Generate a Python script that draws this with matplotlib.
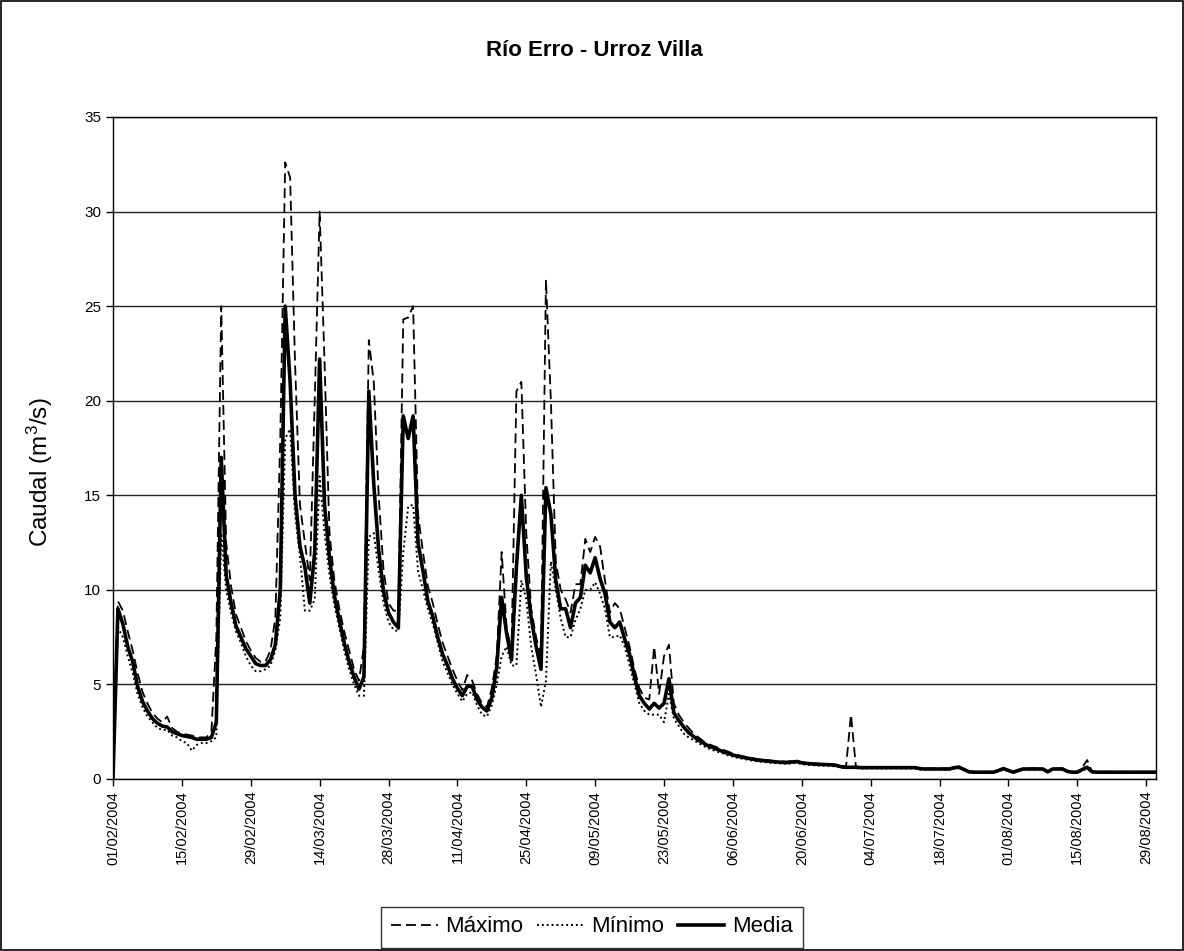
import matplotlib
matplotlib.use('Agg')
import matplotlib.pyplot as plt
import matplotlib.dates as mdates
import pandas as pd
from matplotlib.patches import Rectangle

plt.rcParams['font.family'] = ['Liberation Sans', 'DejaVu Sans']
plt.rcParams['mathtext.fontset'] = 'custom'
plt.rcParams['mathtext.rm'] = 'Liberation Sans'
plt.rcParams['mathtext.it'] = 'Liberation Sans:italic'

# daily flow values, 01/02/2004 - 31/08/2004 (m3/s)
fechas = pd.date_range('2004-02-01', '2004-08-31', freq='D')

maximo = [
    # febrero
    1.5, 9.4, 8.9, 7.8, 6.8, 5.6, 4.6, 4.0, 3.5, 3.2, 3.0, 3.3, 2.7, 2.5, 2.4,
    2.35, 2.3, 2.2, 2.2, 2.2, 2.5, 7.5, 25.0, 12.5, 10.2, 8.7, 8.0, 7.3, 6.8,
    # marzo
    6.4, 6.2, 6.2, 6.8, 8.5, 18.0, 32.6, 31.8, 22.0, 14.5, 12.5, 10.5, 20.0, 30.0, 22.0,
    13.0, 10.5, 9.0, 7.8, 6.8, 5.8, 5.2, 7.0, 23.2, 21.0, 15.0, 11.0, 9.3, 8.9, 8.9, 24.3,
    # abril
    24.4, 25.0, 14.0, 12.0, 10.2, 9.3, 8.2, 7.2, 6.5, 5.8, 5.2, 4.7, 5.5, 5.2, 4.5,
    4.0, 3.8, 4.8, 6.5, 12.0, 8.0, 6.8, 20.5, 21.0, 13.0, 9.0, 7.5, 6.5, 26.4, 20.0,
    # mayo
    11.5, 10.0, 9.5, 8.8, 10.3, 10.3, 12.7, 12.0, 12.8, 12.3, 10.5, 8.8, 9.3, 9.0, 8.0,
    7.0, 5.8, 4.8, 4.3, 4.2, 7.0, 4.5, 6.5, 7.1, 4.0, 3.4, 3.0, 2.7, 2.4, 2.2, 2.0,
    # junio
    1.85, 1.75, 1.65, 1.55, 1.45, 1.35, 1.28, 1.2, 1.15, 1.1, 1.05, 1.02, 1.0, 0.97, 0.95,
    0.93, 0.92, 0.95, 0.97, 0.9, 0.86, 0.84, 0.82, 0.8, 0.79, 0.78, 0.76, 0.68, 0.66, 3.4,
    # julio
    0.66, 0.63, 0.63, 0.63, 0.63, 0.63, 0.63, 0.63, 0.63, 0.63, 0.63, 0.63, 0.63, 0.58, 0.56,
    0.56, 0.56, 0.56, 0.56, 0.56, 0.64, 0.66, 0.52, 0.4, 0.38, 0.38, 0.38, 0.38, 0.38, 0.48, 0.58,
    # agosto
    0.48, 0.4, 0.48, 0.56, 0.56, 0.56, 0.56, 0.56, 0.4, 0.56, 0.56, 0.56, 0.42, 0.38, 0.38,
    0.6, 1.0, 0.4, 0.38, 0.38, 0.38, 0.38, 0.38, 0.38, 0.38, 0.38, 0.38, 0.38, 0.38, 0.38, 0.38,
]

minimo = [
    # febrero
    0.0, 8.0, 7.5, 6.5, 5.6, 4.5, 3.8, 3.3, 3.0, 2.7, 2.6, 2.6, 2.3, 2.2, 2.0,
    1.9, 1.5, 1.8, 1.9, 1.9, 2.0, 2.2, 13.0, 10.0, 8.8, 7.8, 7.2, 6.5, 6.0,
    # marzo
    5.7, 5.7, 5.8, 6.0, 6.8, 8.5, 18.0, 18.5, 14.0, 11.8, 8.9, 8.9, 9.5, 16.0, 13.0,
    10.8, 9.2, 8.0, 6.8, 5.8, 5.0, 4.4, 4.4, 12.8, 13.0, 11.0, 9.3, 8.3, 7.9, 7.8, 12.0,
    # abril
    14.4, 14.5, 11.0, 10.0, 9.0, 8.2, 7.2, 6.2, 5.6, 5.0, 4.5, 4.1, 4.5, 4.6, 3.9,
    3.4, 3.3, 3.9, 5.0, 6.5, 7.0, 6.0, 6.0, 10.5, 9.5, 7.0, 5.5, 3.8, 5.2, 11.5,
    # mayo
    10.0, 8.5, 7.5, 7.5, 8.4, 9.0, 10.0, 10.0, 10.4, 9.8, 9.0, 7.5, 7.5, 7.6, 7.0,
    6.0, 5.0, 4.0, 3.6, 3.4, 3.4, 3.4, 3.0, 4.5, 3.2, 2.8, 2.4, 2.2, 2.05, 1.9, 1.75,
    # junio
    1.62, 1.52, 1.43, 1.35, 1.25, 1.18, 1.12, 1.07, 1.02, 0.97, 0.93, 0.9, 0.88, 0.85, 0.83,
    0.82, 0.8, 0.83, 0.86, 0.79, 0.76, 0.74, 0.72, 0.71, 0.7, 0.69, 0.66, 0.6, 0.58, 0.58,
    # julio
    0.58, 0.56, 0.56, 0.56, 0.56, 0.56, 0.56, 0.56, 0.56, 0.56, 0.56, 0.56, 0.56, 0.5, 0.5,
    0.5, 0.5, 0.5, 0.5, 0.5, 0.55, 0.58, 0.46, 0.34, 0.33, 0.33, 0.33, 0.33, 0.33, 0.4, 0.5,
    # agosto
    0.42, 0.33, 0.4, 0.5, 0.5, 0.5, 0.5, 0.5, 0.35, 0.5, 0.5, 0.5, 0.37, 0.33, 0.33,
    0.45, 0.55, 0.35, 0.33, 0.33, 0.33, 0.33, 0.33, 0.33, 0.33, 0.33, 0.33, 0.33, 0.33, 0.33, 0.33,
]

media = [
    # febrero
    0.0, 9.0, 8.2, 7.0, 6.2, 4.9, 4.1, 3.6, 3.2, 2.95, 2.8, 2.75, 2.5, 2.4, 2.3,
    2.25, 2.2, 2.1, 2.1, 2.1, 2.2, 3.0, 17.0, 10.8, 9.3, 8.1, 7.5, 6.9, 6.5,
    # marzo
    6.1, 6.0, 6.0, 6.3, 7.1, 10.0, 25.0, 21.0, 15.0, 12.3, 11.2, 9.3, 12.0, 22.2, 14.5,
    11.7, 9.7, 8.4, 7.2, 6.2, 5.4, 4.75, 5.4, 20.5, 15.6, 12.1, 9.9, 8.8, 8.3, 8.0, 19.2,
    # abril
    18.0, 19.2, 12.5, 11.0, 9.4, 8.6, 7.5, 6.6, 6.0, 5.3, 4.8, 4.4, 4.9, 4.9, 4.2,
    3.8, 3.6, 4.3, 5.9, 9.6, 7.7, 6.3, 11.2, 15.0, 10.7, 8.5, 7.0, 5.8, 15.4, 14.0,
    # mayo
    10.5, 9.0, 9.0, 8.0, 9.3, 9.6, 11.3, 10.9, 11.7, 10.6, 9.8, 8.3, 8.0, 8.3, 7.4,
    6.6, 5.4, 4.4, 4.0, 3.7, 4.0, 3.75, 4.0, 5.3, 3.5, 3.1, 2.75, 2.45, 2.25, 2.05, 1.9,
    # junio
    1.75, 1.65, 1.55, 1.45, 1.35, 1.27, 1.2, 1.15, 1.1, 1.05, 1.0, 0.98, 0.95, 0.92, 0.9,
    0.88, 0.87, 0.9, 0.92, 0.85, 0.82, 0.8, 0.78, 0.77, 0.76, 0.75, 0.72, 0.65, 0.62, 0.62,
    # julio
    0.62, 0.6, 0.6, 0.6, 0.6, 0.6, 0.6, 0.6, 0.6, 0.6, 0.6, 0.6, 0.6, 0.55, 0.53,
    0.53, 0.53, 0.53, 0.53, 0.53, 0.6, 0.62, 0.5, 0.38, 0.36, 0.36, 0.36, 0.36, 0.36, 0.45, 0.55,
    # agosto
    0.45, 0.36, 0.45, 0.53, 0.53, 0.53, 0.53, 0.53, 0.38, 0.53, 0.53, 0.53, 0.4, 0.36, 0.36,
    0.5, 0.62, 0.38, 0.36, 0.36, 0.36, 0.36, 0.36, 0.36, 0.36, 0.36, 0.36, 0.36, 0.36, 0.36, 0.36,
]

fig = plt.figure(figsize=(11.84, 9.51), dpi=100)
ax = fig.add_axes([113 / 1184, 1 - 779 / 951, (1156 - 113) / 1184, (779 - 117) / 951])

ax.plot(fechas, maximo, color='black', lw=1.3, linestyle=(0, (5.5, 2.8)), label='Máximo', zorder=3)
ax.plot(fechas, minimo, color='black', lw=1.4, linestyle=(0, (1, 1.5)), label='Mínimo', zorder=3)
ax.plot(fechas, media, color='black', lw=2.6, label='Media', zorder=4)

ax.set_ylim(0, 35)
ax.set_yticks(range(0, 36, 5))
ax.set_xlim(fechas[0], fechas[-1])
ax.set_xticks(fechas[::14])
ax.xaxis.set_major_formatter(mdates.DateFormatter('%d/%m/%Y'))
ax.tick_params(axis='x', labelrotation=90, labelsize=10.5, length=5, width=1, direction='out')
ax.tick_params(axis='y', labelsize=11, length=5, width=1, direction='out')

ax.yaxis.grid(True, color='#222222', lw=1)
ax.set_axisbelow(True)
for s in ax.spines.values():
    s.set_color('black')
    s.set_linewidth(1)

fig.text(0.502, 1 - 50 / 951, 'Río Erro - Urroz Villa', ha='center', va='center',
         fontsize=16, fontweight='bold')
fig.text(40 / 1184, 1 - 472 / 951, 'Caudal (m$^3$/s)', ha='center', va='center',
         rotation=90, fontsize=17.5)

leg = fig.legend(loc='center', bbox_to_anchor=(592 / 1184, 1 - 927 / 951), ncol=3,
                 fontsize=16, frameon=True, fancybox=False, edgecolor='black',
                 handlelength=2.1, handletextpad=0.35, columnspacing=0.6,
                 borderpad=0.45)
leg.get_frame().set_linewidth(1)

fig.patches.append(Rectangle((0.0008, 0.001), 0.9984, 0.998, transform=fig.transFigure,
                             fill=False, edgecolor='black', lw=1.2))

fig.savefig('out.png', dpi=100)
